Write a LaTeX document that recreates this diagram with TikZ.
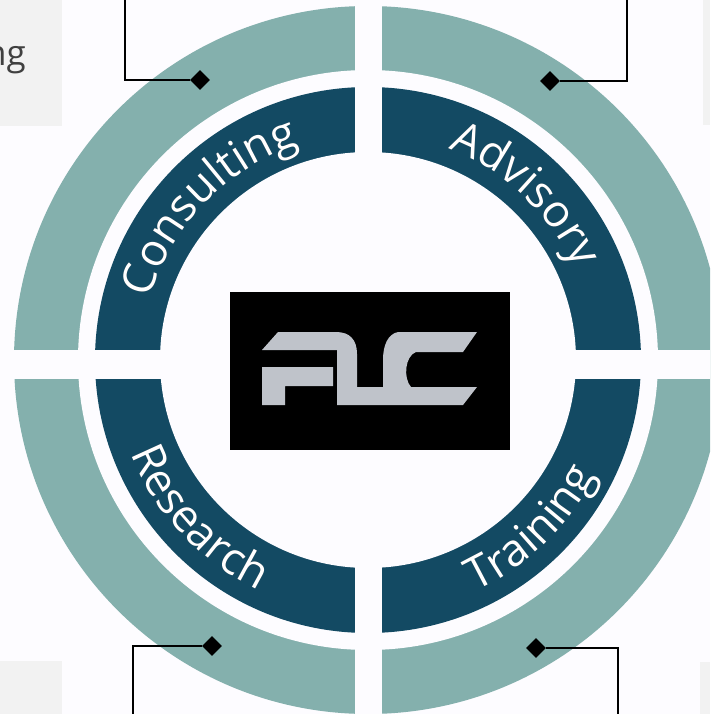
\documentclass[tikz,border=0pt]{standalone}
\usepackage{fontspec}
\setmainfont{Open Sans}
\usetikzlibrary{shapes.geometric,decorations.text}
\definecolor{bg}{RGB}{253,252,255}
\definecolor{ringteal}{RGB}{132,176,173}
\definecolor{ringblue}{RGB}{19,74,99}
\definecolor{boxgray}{RGB}{242,242,242}
\definecolor{logogray}{RGB}{191,195,202}
\newcommand\ringfont{\fontsize{45}{45}\selectfont}
\tikzset{
  pin/.style={diamond,fill=black,inner sep=0pt,minimum size=20pt},
  lead/.style={line width=2pt,black},
  ringtext/.style={decorate,decoration={text along path,text align=center,
    text color=white,text={|\ringfont|#1}}},
  ringshadow/.style={decorate,decoration={text along path,text align=center,
    text color=ringblue!45!black,text={|\ringfont|#1}}}
}
\begin{document}
\begin{tikzpicture}[x=1pt,y=1pt]
      \useasboundingbox (0,0) rectangle (710,-714);
      \clip (0,0) rectangle (710,-714);
      \fill[bg] (0,0) rectangle (710,-714);
      \fill[boxgray] (0,0) rectangle (62,-126);
      \fill[boxgray] (703,0) rectangle (710,-125);
      \fill[boxgray] (0,-661) rectangle (62,-714);
      \fill[boxgray] (700,-662) rectangle (710,-714);
      \node[anchor=base east,inner sep=0pt,font=\fontsize{35}{35}\selectfont,text=black!75] (ng) at (26,-66) {ng};
      \coordinate (c) at (368,-360);
      \fill[ringteal] (c) circle (354);
      \fill[bg] (c) circle (290);
      \fill[ringblue] (c) circle (273);
      \fill[bg] (c) circle (208);
      \fill[bg] (355,0) rectangle (382,-714);
      \fill[bg] (0,-350) rectangle (710,-379);
      \node[fill=black,minimum width=280pt,minimum height=158pt,inner sep=0pt] (logo) at (370,-371) {};
      \fill[logogray] (262,-350) -- (278,-332) -- (336,-332)
        .. controls (350,-332) and (357,-340) .. (357,-354) -- (357,-387) -- (383,-387) -- (383,-360)
        .. controls (383,-345) and (388,-334) .. (398,-332) -- (477,-332) -- (463,-352) -- (416,-352)
        .. controls (405,-356) and (403,-378) .. (411,-387) -- (477,-387) -- (463,-405)
        -- (337,-405) -- (337,-350) -- cycle;
      \fill[logogray] (262,-367) -- (333,-367) -- (333,-386) -- (285,-386) -- (285,-405) -- (262,-405) -- cycle;
      \begin{scope}[shift={(1.5,-1.5)}]
        \path[ringshadow=Consulting] (c) ++(176:226) arc[start angle=176,end angle=96,radius=226];
        \path[ringshadow=Advisory] (c) ++(86.5:226) arc[start angle=86.5,end angle=6.5,radius=226];
        \path[ringshadow=Research] (c) ++(183:255) arc[start angle=183,end angle=263,radius=255];
        \path[ringshadow=Training] (c) ++(274:255) arc[start angle=274,end angle=354,radius=255];
      \end{scope}
      \path[ringtext=Consulting] (c) ++(176:226) arc[start angle=176,end angle=96,radius=226];
      \path[ringtext=Advisory] (c) ++(86.5:226) arc[start angle=86.5,end angle=6.5,radius=226];
      \path[ringtext=Research] (c) ++(183:255) arc[start angle=183,end angle=263,radius=255];
      \path[ringtext=Training] (c) ++(274:255) arc[start angle=274,end angle=354,radius=255];
      \path
        (200,-80) node[pin] (d1){}
        (550,-81) node[pin] (d2){}
        (212,-646) node[pin] (d3){}
        (536,-648) node[pin] (d4){};
      \coordinate (e1) at (125,0);
      \coordinate (e2) at (627,0);
      \coordinate (e3) at (133,-714);
      \coordinate (e4) at (618,-714);
      \begin{scope}[lead]
        \draw (d1) -| (e1);
        \draw (d2) -| (e2);
        \draw (d3) -| (e3);
        \draw (d4) -| (e4);
      \end{scope}
    \end{tikzpicture}
\end{document}
